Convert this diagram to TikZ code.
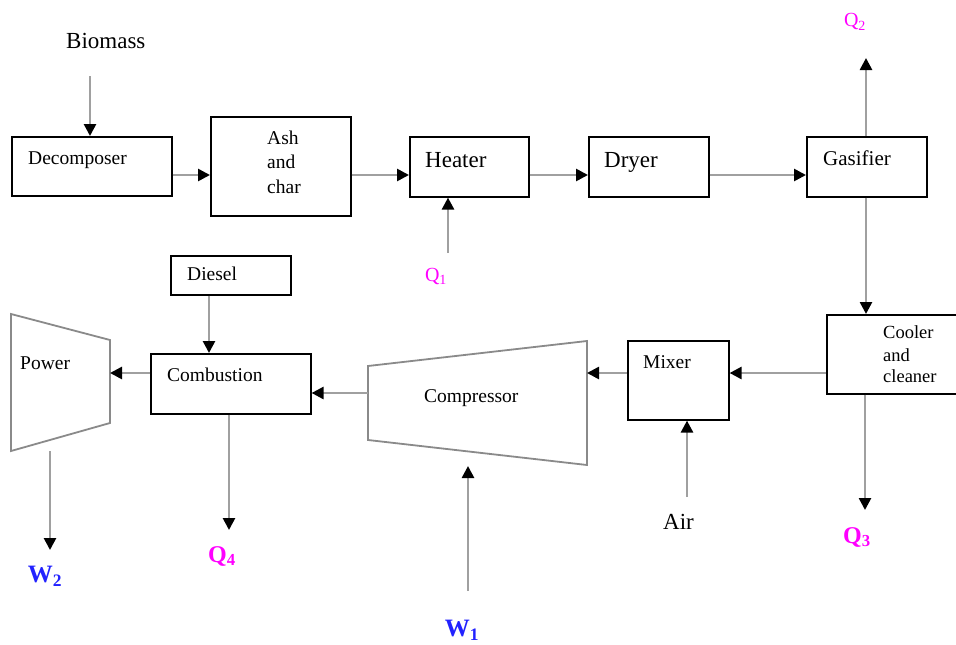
\documentclass[tikz,border=0pt]{standalone}
\usepackage{fontspec}
\setmainfont{Liberation Serif}
\usetikzlibrary{arrows.meta}
\definecolor{lgray}{HTML}{A0A0A0}
\definecolor{tgray}{HTML}{8A8A8A}
\definecolor{qmag}{HTML}{FF00FF}
\definecolor{wblue}{HTML}{2222FF}
\begin{document}
\begin{tikzpicture}[x=1pt,y=-1pt,
  box/.style={draw=black, line width=1.6pt, anchor=north west, inner sep=0pt},
  flow/.style={draw=lgray, line width=2.6pt, -{Triangle[length=12pt,width=12pt,color=black]}},
  trap/.style={draw=tgray, line width=1.8pt, line join=miter},
  txt/.style={anchor=base west, inner sep=0pt, font=\fontsize{19.5}{22}\selectfont},
  bigtxt/.style={anchor=base west, inner sep=0pt, font=\fontsize{23}{27}\selectfont},
  qsmall/.style={inner sep=0pt, text=qmag, font=\fontsize{20}{24}\selectfont},
  qbig/.style={inner sep=0pt, text=qmag, font=\fontsize{24}{28}\selectfont\bfseries},
  wbig/.style={inner sep=0pt, text=wblue, font=\fontsize{25}{29}\selectfont\bfseries}
]
\useasboundingbox (0,0) rectangle (956,645);

% boxes
\node[box, minimum width=160pt, minimum height=59pt] (dec) at (11,136) {};
\node[box, minimum width=140pt, minimum height=99pt] (ash) at (210,116) {};
\node[box, minimum width=119pt, minimum height=60pt] (heat) at (409,136) {};
\node[box, minimum width=120pt, minimum height=60pt] (dry) at (588,136) {};
\node[box, minimum width=120pt, minimum height=60pt] (gas) at (806,136) {};
\node[box, minimum width=131pt, minimum height=79pt] (cool) at (826,314) {};
\node[box, minimum width=101pt, minimum height=79pt] (mix) at (627,340) {};
\node[box, minimum width=160pt, minimum height=60pt] (comb) at (150,353) {};
\node[box, minimum width=120pt, minimum height=39pt] (dies) at (170,255) {};

% trapezoids
\draw[trap] (368,366) coordinate (cTL) -- (587,341) coordinate (cTR) -- (587,465) coordinate (cBR) -- (368,440) coordinate (cBL) -- cycle;
\draw[trap] (11,314) coordinate (pTL) -- (110,340) coordinate (pTR) -- (110,423) coordinate (pBR) -- (11,451) coordinate (pBL) -- cycle;

% texts in boxes
\node[txt] (tdec) at (28,164) {Decomposer};
\node[txt] (tash1) at (267,144) {Ash};
\node[txt] (tash2) at (267,168) {and};
\node[txt] (tash3) at (267,193) {char};
\node[bigtxt] (theat) at (425,167) {Heater};
\node[bigtxt] (tdry) at (604,167) {Dryer};
\node[txt, font=\fontsize{21}{24}\selectfont] (tgas) at (823,165) {Gasifier};
\node[txt, font=\fontsize{18.5}{22}\selectfont] (tcool1) at (883,338) {Cooler};
\node[txt, font=\fontsize{18.5}{22}\selectfont] (tcool2) at (883,361) {and};
\node[txt, font=\fontsize{18.5}{22}\selectfont] (tcool3) at (883,382) {cleaner};
\node[txt] (tmix) at (643,368) {Mixer};
\node[txt] (tcomp) at (424,402) {Compressor};
\node[txt] (tcomb) at (167,381) {Combustion};
\node[txt] (tdies) at (187,280) {Diesel};
\node[txt] (tpow) at (20,369) {Power};

% outside labels
\node[bigtxt] (bio) at (66,48) {Biomass};
\node[bigtxt] (air) at (663,529) {Air};
\node[qsmall] (q1) at (436,276) {Q\textsubscript{1}};
\node[qsmall] (q2) at (855,22) {Q\textsubscript{2}};
\node[qbig] (q3) at (857,537) {Q\textsubscript{3}};
\node[qbig] (q4) at (222,556) {Q\textsubscript{4}};
\node[wbig] (w2) at (45,576) {W\textsubscript{2}};
\node[wbig] (w1) at (462,630) {W\textsubscript{1}};

% helper coordinates
\coordinate (r1) at (0,175);
\coordinate (r2) at (0,373);
\coordinate (bioS) at (90,76);
\coordinate (q1S) at (448,253);
\coordinate (gx) at (866,0);
\coordinate (q2E) at (866,58);
\coordinate (q3E) at (865,510);
\coordinate (airS) at (687,497);
\coordinate (compR) at (587,373);
\coordinate (compL) at (368,393);
\coordinate (dx) at (209,0);
\coordinate (powR) at (110,373);
\coordinate (w2S) at (50,451);
\coordinate (w2E) at (50,550);
\coordinate (q4E) at (229,530);
\coordinate (w1S) at (468,591);
\coordinate (w1E) at (468,466);

% connectors
\draw[flow] (bioS) -- (bioS |- dec.north);
\draw[flow] (dec.east |- r1) -- (ash.west |- r1);
\draw[flow] (ash.east |- r1) -- (heat.west |- r1);
\draw[flow] (heat.east |- r1) -- (dry.west |- r1);
\draw[flow] (dry.east |- r1) -- (gas.west |- r1);
\draw[flow] (q1S) -- (q1S |- heat.south);
\draw[flow] (gas.north -| gx) -- (q2E);
\draw[flow] (gas.south -| gx) -- (cool.north -| gx);
\draw[flow] (cool.south -| q3E) -- (q3E);
\draw[flow] (cool.west |- r2) -- (mix.east |- r2);
\draw[flow] (airS) -- (airS |- mix.south);
\draw[flow] (mix.west |- r2) -- (compR);
\draw[flow] (compL) -- (comb.east |- compL);
\draw[flow] (dies.south -| dx) -- (comb.north -| dx);
\draw[flow] (comb.west |- powR) -- (powR);
\draw[flow] (w2S) -- (w2E);
\draw[flow] (comb.south -| q4E) -- (q4E);
\draw[flow] (w1S) -- (w1E);
\end{tikzpicture}
\end{document}
